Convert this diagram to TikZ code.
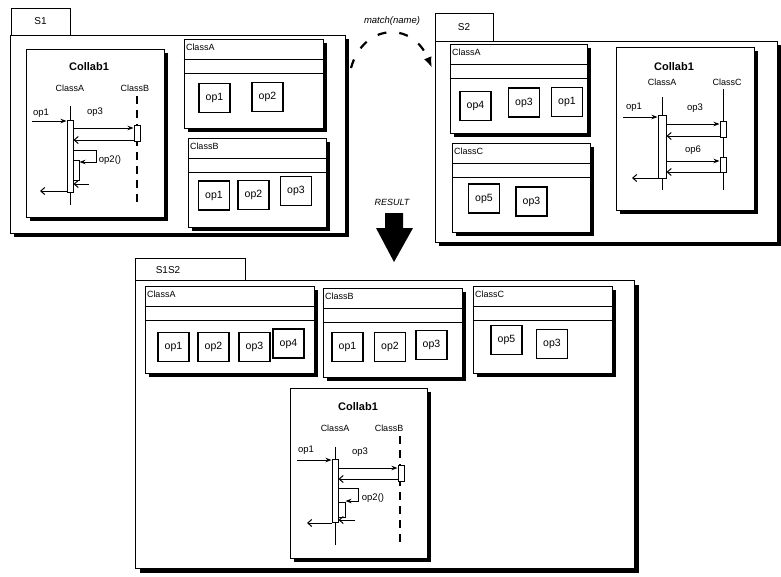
\documentclass[tikz,border=0pt]{standalone}
\usepackage{fontspec}
\setmainfont{Liberation Sans}
\usetikzlibrary{arrows.meta,fit,calc}
\newcommand\shbox[5]{%
  \fill[black] (#2+4,#3+4) rectangle (#4+4,#5+4);
  \node[box,fit={(#2,#3)(#4,#5)}] (#1) {};}
\newcommand\clsbox[6]{%
  \shbox{#1}{#2}{#3}{#4}{#5}
  \draw ($(#1.north west)+(0,21)$) -- ($(#1.north east)+(0,21)$);
  \draw ($(#1.north west)+(0,35)$) -- ($(#1.north east)+(0,35)$);
  \node[ctitle,anchor=north west] (#1t) at ($(#1.north west)+(2,5)$) {#6};}
\begin{document}
\begin{tikzpicture}[x=1pt,y=-1pt,line width=1pt,
  box/.style={draw,fill=white,inner sep=0pt},
  tabbox/.style={draw,fill=white,inner sep=0pt,font=\fontsize{10}{12}\selectfont},
  ctitle/.style={inner sep=0pt,font=\fontsize{9}{10}\selectfont},
  opb/.style={draw,fill=white,minimum width=31pt,minimum height=29pt,inner sep=0pt,font=\fontsize{10.5}{12}\selectfont,line width=1.1pt},
  ctl/.style={inner sep=0pt,font=\bfseries\fontsize{11}{13}\selectfont},
  lbl/.style={inner sep=0pt,font=\fontsize{9}{10}\selectfont},
  ml/.style={inner sep=0pt,font=\fontsize{9.5}{10}\selectfont},
  bar/.style={draw,fill=white,inner sep=0pt},
  call/.style={-{Stealth[length=6pt,width=4.5pt]}},
  ret/.style={-{Straight Barb[length=4pt,width=7pt]}},
  life/.style={line width=1pt},
  dlife/.style={line width=1.1pt,dash pattern=on 8pt off 6pt}]
\useasboundingbox (0,0) rectangle (781,576);

%% ================= S1 =================
\fill[black] (14,39) rectangle (349,237);
\node[tabbox,fit={(11,8)(70,35)}] (s1tab) {};
\node[lbl,font=\fontsize{10}{12}\selectfont] at (s1tab.center) {S1};
\node[box,fit={(10,35)(345,233)}] (s1) {};

% Collab1 in S1
\shbox{c1}{26}{49}{164}{217}
\node[ctl] (c1t) at (89,67) {Collab1};
\node[lbl] (c1la) at (70,88) {ClassA};
\node[lbl] (c1lb) at (135,88) {ClassB};
\coordinate (c1Atop) at (70,106); \coordinate (c1Abot) at (70,205);
\draw[life] (c1Atop) -- (c1Abot);
\coordinate (c1Btop) at (137,96); \coordinate (c1Bbot) at (137,205);
\draw[dlife] (c1Btop) -- (c1Bbot);
\node[bar,fit={(67,120)(73,192)}] (c1A) {};
\node[bar,fit={(134,125)(140,141)}] (c1B) {};
\node[bar,fit={(73,160)(79,180)}] (c1S) {};
\coordinate (c1p1) at (32,121);
\draw[call] (c1p1) -- (c1p1 -| c1A.west);
\node[ml] at (41,113) {op1};
\coordinate (c1p3) at (100,128);
\draw[call] (c1A.east |- c1p3) -- (c1B.west |- c1p3);
\node[ml] at (95,112) {op3};
\coordinate (c1r3) at (100,140);
\draw[ret] (c1B.west |- c1r3) -- (c1A.east |- c1r3);
\coordinate (c1l1) at (96,150); \coordinate (c1l2) at (96,162);
\draw[call] (c1A.east |- c1l1) -- (c1l1) -- (c1l2) -- (c1l2 -| c1S.east);
\node[ml] at (110,160) {op2()};
\coordinate (c1r2) at (89,184);
\draw[ret] (c1r2) -- (c1r2 -| c1A.east);
\coordinate (c1r1) at (40,191);
\draw[ret] (c1r1 -| c1A.west) -- (c1r1);

% S1 classes
\clsbox{s1ca}{184}{39}{323}{128}{ClassA}
\node[opb] (s1a1) at (214.5,98) {op1};
\node[opb] (s1a2) at (267.5,97) {op2};
\clsbox{s1cb}{188}{138}{326}{227}{ClassB}
\node[opb] (s1b1) at (214,195.5) {op1};
\node[opb] (s1b2) at (253.5,195) {op2};
\node[opb] (s1b3) at (296,191) {op3};

%% ================= S2 =================
\fill[black] (439,45) rectangle (781,246);
\node[tabbox,fit={(435,13)(493,41)}] (s2tab) {};
\node[lbl,font=\fontsize{10}{12}\selectfont] at (s2tab.center) {S2};
\node[box,fit={(435,41)(777,242)}] (s2) {};

\clsbox{s2ca}{450}{44}{587}{133}{ClassA}
\node[opb] (s2a1) at (475.5,106) {op4};
\node[opb] (s2a2) at (524,102.5) {op3};
\node[opb] (s2a3) at (567,102) {op1};
\clsbox{s2cc}{452}{143}{590}{232}{ClassC}
\node[opb] (s2c1) at (484,198.5) {op5};
\node[opb] (s2c2) at (531.5,201.5) {op3};

% Collab1 in S2
\shbox{c2}{616}{47}{754}{210}
\node[ctl] (c2t) at (674,67) {Collab1};
\node[lbl] (c2la) at (662,82) {ClassA};
\node[lbl] (c2lc) at (727,82) {ClassC};
\coordinate (c2Atop) at (662,97); \coordinate (c2Abot) at (662,190);
\draw[life] (c2Atop) -- (c2Abot);
\coordinate (c2Ctop) at (723,89); \coordinate (c2Cbot) at (723,190);
\draw[life] (c2Ctop) -- (c2Cbot);
\node[bar,fit={(658,115)(666,178)}] (c2A) {};
\node[bar,fit={(720,121)(726,137)}] (c2C1) {};
\node[bar,fit={(720,157)(726,172)}] (c2C2) {};
\coordinate (c2p1) at (623,117);
\draw[call] (c2p1) -- (c2p1 -| c2A.west);
\node[ml] at (634,107) {op1};
\coordinate (c2p3) at (690,124);
\draw[call] (c2A.east |- c2p3) -- (c2C1.west |- c2p3);
\node[ml] at (695,108) {op3};
\coordinate (c2r3) at (690,136);
\draw[ret] (c2C1.west |- c2r3) -- (c2A.east |- c2r3);
\coordinate (c2p6) at (690,161);
\draw[call] (c2A.east |- c2p6) -- (c2C2.west |- c2p6);
\node[ml] at (693,150) {op6};
\coordinate (c2r6) at (690,172);
\draw[ret] (c2C2.west |- c2r6) -- (c2A.east |- c2r6);
\coordinate (c2r1) at (632,178);
\draw[ret] (c2r1 -| c2A.west) -- (c2r1);

%% ================= match arrow =================
\coordinate (mS) at (351,68);
\coordinate (mE) at (432,68);
\draw[line width=2.2pt,dash pattern=on 9pt off 13pt,-{Latex[length=11pt,width=8pt]}]
  (mS) .. controls (363,24) and (412,20) .. (mE);
\node[lbl,font=\itshape\fontsize{9.5}{10}\selectfont] (mlbl) at (392,21) {match(name)};

%% ================= RESULT arrow =================
\node[lbl,font=\itshape\fontsize{9}{10}\selectfont] (rlbl) at (392,202) {RESULT};
\fill[black] (385,213) -- (403,213) -- (403,228) -- (413,228) -- (394,262) -- (376,228) -- (385,228) -- cycle;

%% ================= S1S2 =================
\fill[black] (140,285) rectangle (639,573);
\node[tabbox,fit={(135,258)(245,280)}] (s3tab) {};
\node[lbl,font=\fontsize{10}{12}\selectfont] at (168,270) {S1S2};
\node[box,fit={(135,280)(634,568)}] (s3) {};

\clsbox{s3ca}{145}{286}{314}{373}{ClassA}
\node[opb] (s3a1) at (173.5,347) {op1};
\node[opb] (s3a2) at (213.5,347) {op2};
\node[opb] (s3a3) at (254.5,347) {op3};
\node[opb] (s3a4) at (288.5,343.5) {op4};
\clsbox{s3cb}{323}{288}{462}{377}{ClassB}
\node[opb] (s3b1) at (347.5,347) {op1};
\node[opb] (s3b2) at (390,347) {op2};
\node[opb] (s3b3) at (431.5,345) {op3};
\clsbox{s3cc}{473}{286}{612}{373}{ClassC}
\node[opb] (s3c1) at (506.5,340) {op5};
\node[opb] (s3c2) at (552,344) {op3};

% Collab1 in S1S2
\shbox{c3}{290}{388}{427}{558}
\node[ctl] (c3t) at (358,407) {Collab1};
\node[lbl] (c3la) at (335,428) {ClassA};
\node[lbl] (c3lb) at (389,428) {ClassB};
\coordinate (c3Atop) at (335,447); \coordinate (c3Abot) at (335,545);
\draw[life] (c3Atop) -- (c3Abot);
\coordinate (c3Btop) at (400,436); \coordinate (c3Bbot) at (400,542);
\draw[dlife] (c3Btop) -- (c3Bbot);
\node[bar,fit={(332,459)(338,522)}] (c3A) {};
\node[bar,fit={(398,465)(404,481)}] (c3B) {};
\node[bar,fit={(338,502)(345,517)}] (c3S) {};
\coordinate (c3p1) at (297,460);
\draw[call] (c3p1) -- (c3p1 -| c3A.west);
\node[ml] at (306,450) {op1};
\coordinate (c3p3) at (370,468);
\draw[call] (c3A.east |- c3p3) -- (c3B.west |- c3p3);
\node[ml] at (360,452) {op3};
\coordinate (c3r3) at (370,479);
\draw[ret] (c3B.west |- c3r3) -- (c3A.east |- c3r3);
\coordinate (c3l1) at (358,488); \coordinate (c3l2) at (358,501);
\draw[call] (c3A.east |- c3l1) -- (c3l1) -- (c3l2) -- (c3l2 -| c3S.east);
\node[ml] at (373,498) {op2()};
\coordinate (c3r2) at (355,520);
\draw[ret] (c3r2) -- (c3r2 -| c3A.east);
\coordinate (c3r1) at (307,523);
\draw[ret] (c3r1 -| c3A.west) -- (c3r1);
\end{tikzpicture}
\end{document}
